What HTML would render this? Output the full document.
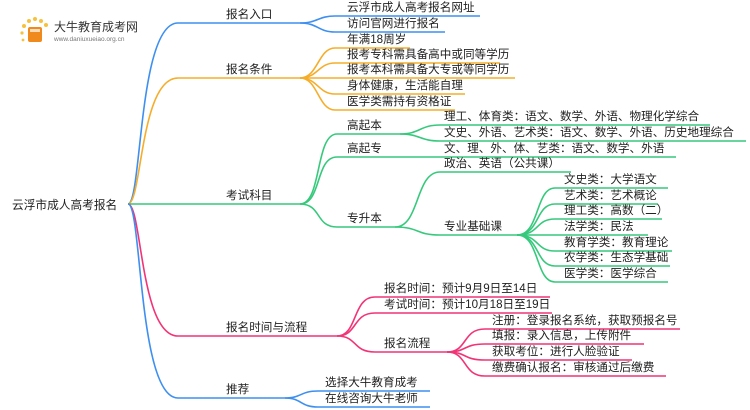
<!DOCTYPE html>
<html><head><meta charset="utf-8"><style>
html,body{margin:0;padding:0;background:#fff;width:750px;height:410px;overflow:hidden}
text{font-family:"Liberation Sans","Noto Sans CJK SC",sans-serif;font-size:11.6px;fill:#222}
path,line{fill:none;stroke-width:1.6}
</style></head><body>
<svg width="750" height="410" viewBox="0 0 750 410" xmlns="http://www.w3.org/2000/svg">
<g>
<circle cx="24" cy="26" r="2" fill="#f7c23a"/><circle cx="29" cy="21" r="2" fill="#f7c23a"/><circle cx="35" cy="19" r="2" fill="#f7c23a"/><circle cx="41" cy="21" r="2" fill="#f7c23a"/><circle cx="46" cy="25" r="2" fill="#f7c23a"/><circle cx="22" cy="33" r="1.6" fill="#f7c23a"/><circle cx="23" cy="40" r="1.4" fill="#f7c23a"/>
<rect x="28" y="27" width="14" height="15" rx="2" fill="#f08a1c"/>
<rect x="30" y="29" width="10" height="3" fill="#fff" opacity="0.7"/>
<text x="54" y="31" style="font-size:12px;fill:#333">大牛教育成考网</text>
<text x="54" y="41" style="font-size:6.5px;fill:#777">www.daniuxueiao.org.cn</text>
</g>
<text x="12" y="209" style="font-size:11.7px">云浮市成人高考报名</text>

<g stroke="#3d8ff0">
<path d="M128 204 C142 204,138 23,178 23 L300 23"/>
<path d="M300 23 C318 23,318 16,335 16 L480 16"/>
<path d="M300 23 C318 23,318 32,335 32 L445 32"/>
</g>
<text x="226" y="18">报名入口</text>
<text x="347" y="11">云浮市成人高考报名网址</text>
<text x="347" y="27">访问官网进行报名</text>

<g stroke="#f5ad2a">
<path d="M128 204 C142 204,140 78,178 78 L300 78"/>
<path d="M300 78 C318 78,318 48,335 48 L410 48"/>
<path d="M300 78 C318 78,318 63,335 63 L500 63"/>
<path d="M300 78 L515 78"/>
<path d="M300 78 C318 78,318 94,335 94 L465 94"/>
<path d="M300 78 C318 78,318 110,335 110 L455 110"/>
</g>
<text x="226" y="73">报名条件</text>
<text x="347" y="43">年满18周岁</text>
<text x="347" y="58">报考专科需具备高中或同等学历</text>
<text x="347" y="73">报考本科需具备大专或等同学历</text>
<text x="347" y="89">身体健康，生活能自理</text>
<text x="347" y="105">医学类需持有资格证</text>

<g stroke="#36c97c">
<path d="M128 204 L300 204"/>
<path d="M300 204 C322 204,315 134,337 134 L400 134"/>
<path d="M300 204 C322 204,315 157,337 157 L400 157"/>
<path d="M300 204 C322 204,315 227,337 227 L395 227"/>
<path d="M400 134 C420 134,420 125,440 125 L710 125"/>
<path d="M400 134 C420 134,420 141,440 141 L746 141"/>
<path d="M400 157 L676 157"/>
<path d="M395 227 C420 227,415 172,440 172 L571 172"/>
<path d="M395 227 C420 227,415 235,440 235 L517 235"/>
<path d="M517 235 C540 235,535 188,555 188 L668 188"/>
<path d="M517 235 C540 235,535 204,555 204 L658 204"/>
<path d="M517 235 C540 235,535 219,555 219 L662 219"/>
<path d="M517 235 C540 235,535 235,555 235 L648 235"/>
<path d="M517 235 C540 235,535 251,555 251 L672 251"/>
<path d="M517 235 C540 235,535 266,555 266 L670 266"/>
<path d="M517 235 C540 235,535 282,555 282 L668 282"/>
</g>
<text x="226" y="199">考试科目</text>
<text x="347" y="129">高起本</text>
<text x="347" y="152">高起专</text>
<text x="347" y="222">专升本</text>
<text x="444" y="120">理工、体育类：语文、数学、外语、物理化学综合</text>
<text x="444" y="136">文史、外语、艺术类：语文、数学、外语、历史地理综合</text>
<text x="444" y="152">文、理、外、体、艺类：语文、数学、外语</text>
<text x="444" y="167">政治、英语（公共课）</text>
<text x="444" y="230">专业基础课</text>
<text x="564" y="183">文史类：大学语文</text>
<text x="564" y="199">艺术类：艺术概论</text>
<text x="564" y="214">理工类：高数（二）</text>
<text x="564" y="230">法学类：民法</text>
<text x="564" y="246">教育学类：教育理论</text>
<text x="564" y="261">农学类：生态学基础</text>
<text x="564" y="277">医学类：医学综合</text>

<g stroke="#f23477">
<path d="M128 204 C142 204,140 336,178 336 L337 336"/>
<path d="M337 336 C358 336,352 297,375 297 L550 297"/>
<path d="M337 336 C358 336,352 313,375 313 L552 313"/>
<path d="M337 336 C358 336,352 352,375 352 L447 352"/>
<path d="M447 352 C468 352,462 329,485 329 L680 329"/>
<path d="M447 352 C468 352,462 344,485 344 L644 344"/>
<path d="M447 352 C468 352,462 360,485 360 L632 360"/>
<path d="M447 352 C468 352,462 376,485 376 L666 376"/>
</g>
<text x="226" y="331">报名时间与流程</text>
<text x="384" y="292">报名时间：预计9月9日至14日</text>
<text x="384" y="308">考试时间：预计10月18日至19日</text>
<text x="384" y="347">报名流程</text>
<text x="492" y="324">注册：登录报名系统，获取预报名号</text>
<text x="492" y="339">填报：录入信息，上传附件</text>
<text x="492" y="355">获取考位：进行人脸验证</text>
<text x="492" y="371">缴费确认报名：审核通过后缴费</text>

<g stroke="#3d8ff0">
<path d="M128 204 C142 204,138 398,178 398 L285 398"/>
<path d="M285 398 C302 398,300 391,318 391 L430 391"/>
<path d="M285 398 C302 398,300 407,318 407 L430 407"/>
</g>
<text x="226" y="393">推荐</text>
<text x="325" y="386">选择大牛教育成考</text>
<text x="325" y="402">在线咨询大牛老师</text>
</svg>
</body></html>
